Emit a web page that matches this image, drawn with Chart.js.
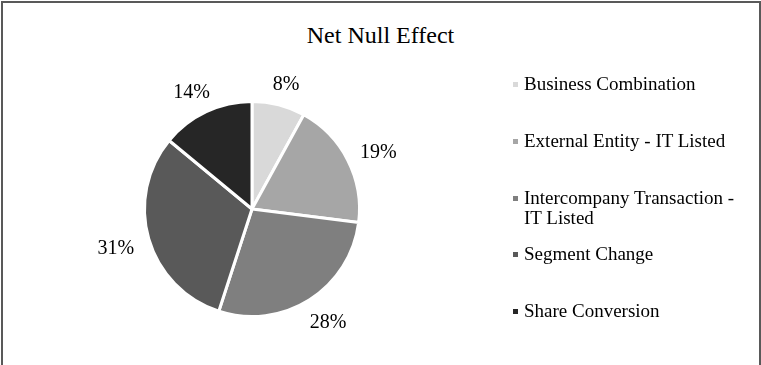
<!DOCTYPE html>
<html>
<head>
<meta charset="UTF-8">
<title>Net Null Effect</title>
<script src="https://cdn.jsdelivr.net/npm/chart.js@4/dist/chart.umd.min.js"></script>
<style>
  body { margin: 0; background: #fff; overflow: hidden; }
  #wrap { position: relative; width: 761px; height: 365px; overflow: hidden; font-family: "Liberation Serif", "Times New Roman", serif; }
  #frame { position: absolute; left: 1px; top: 1px; width: 760px; height: 420px; border: 2px solid #595959; box-sizing: border-box; }
  #title { position: absolute; left: 0; width: 761px; top: 23px; text-align: center; font-size: 24px; line-height: 24px; color: #000; }
  #pie { position: absolute; left: 0; top: 0; }
  #legend { position: absolute; left: 511px; top: 74px; width: 240px; }
  #legend .item { height: 56.75px; font-size: 19px; line-height: 20px; color: #000; position: relative; padding-left: 13px; }
  #legend .box { position: absolute; left: 2px; top: 8px; width: 5px; height: 5px; }
  #legend .txt { display: block; width: 220px; }
</style>
</head>
<body>
<div id="wrap">
  <div id="frame"></div>
  <div id="title">Net Null Effect</div>
  <canvas id="pie" width="761" height="365"></canvas>
  <div id="legend"></div>
</div>
<script>
  // slice data, clockwise from 12 o'clock
  var categories = [
    "Business Combination",
    "External Entity - IT Listed",
    "Intercompany Transaction - IT Listed",
    "Segment Change",
    "Share Conversion"
  ];
  var shares = [8, 19, 28, 31, 14];
  var sliceColors = ["#d9d9d9", "#a6a6a6", "#7f7f7f", "#595959", "#262626"];

  // percentage labels sitting just outside each slice
  var outsideLabels = {
    id: "outsideLabels",
    afterDatasetsDraw: function (chart) {
      var ctx = chart.ctx;
      var data = chart.data.datasets[0].data;
      var total = data.reduce(function (a, b) { return a + b; }, 0);
      var meta = chart.getDatasetMeta(0);
      ctx.save();
      ctx.font = "20px 'Liberation Serif', 'Times New Roman', serif";
      ctx.fillStyle = "#000";
      ctx.textAlign = "center";
      ctx.textBaseline = "middle";
      meta.data.forEach(function (arc, i) {
        var p = arc.getProps(["x", "y", "startAngle", "endAngle", "outerRadius"], true);
        var mid = (p.startAngle + p.endAngle) / 2;
        var cx = Math.cos(mid), cy = Math.sin(mid);
        var txt = Math.round(data[i] / total * 100) + "%";
        var hw = ctx.measureText(txt).width / 2, hh = 8;
        var r = p.outerRadius + 16;
        ctx.fillText(txt, p.x + cx * r + cx * hw, p.y + cy * r + cy * hh + 3);
      });
      ctx.restore();
    }
  };

  new Chart(document.getElementById("pie").getContext("2d"), {
    type: "pie",
    data: {
      labels: categories,
      datasets: [{
        data: shares,
        backgroundColor: sliceColors,
        borderColor: "#ffffff",
        borderWidth: 3
      }]
    },
    options: {
      responsive: false,
      animation: false,
      layout: { padding: { left: 143, right: 400, top: 100, bottom: 47 } },
      plugins: {
        legend: { display: false },
        tooltip: { enabled: false }
      }
    },
    plugins: [outsideLabels]
  });

  // legend on the right
  var legend = document.getElementById("legend");
  categories.forEach(function (name, i) {
    var item = document.createElement("div");
    item.className = "item";
    var box = document.createElement("span");
    box.className = "box";
    box.style.background = sliceColors[i];
    var txt = document.createElement("span");
    txt.className = "txt";
    txt.textContent = name;
    item.appendChild(box);
    item.appendChild(txt);
    legend.appendChild(item);
  });
</script>
</body>
</html>
